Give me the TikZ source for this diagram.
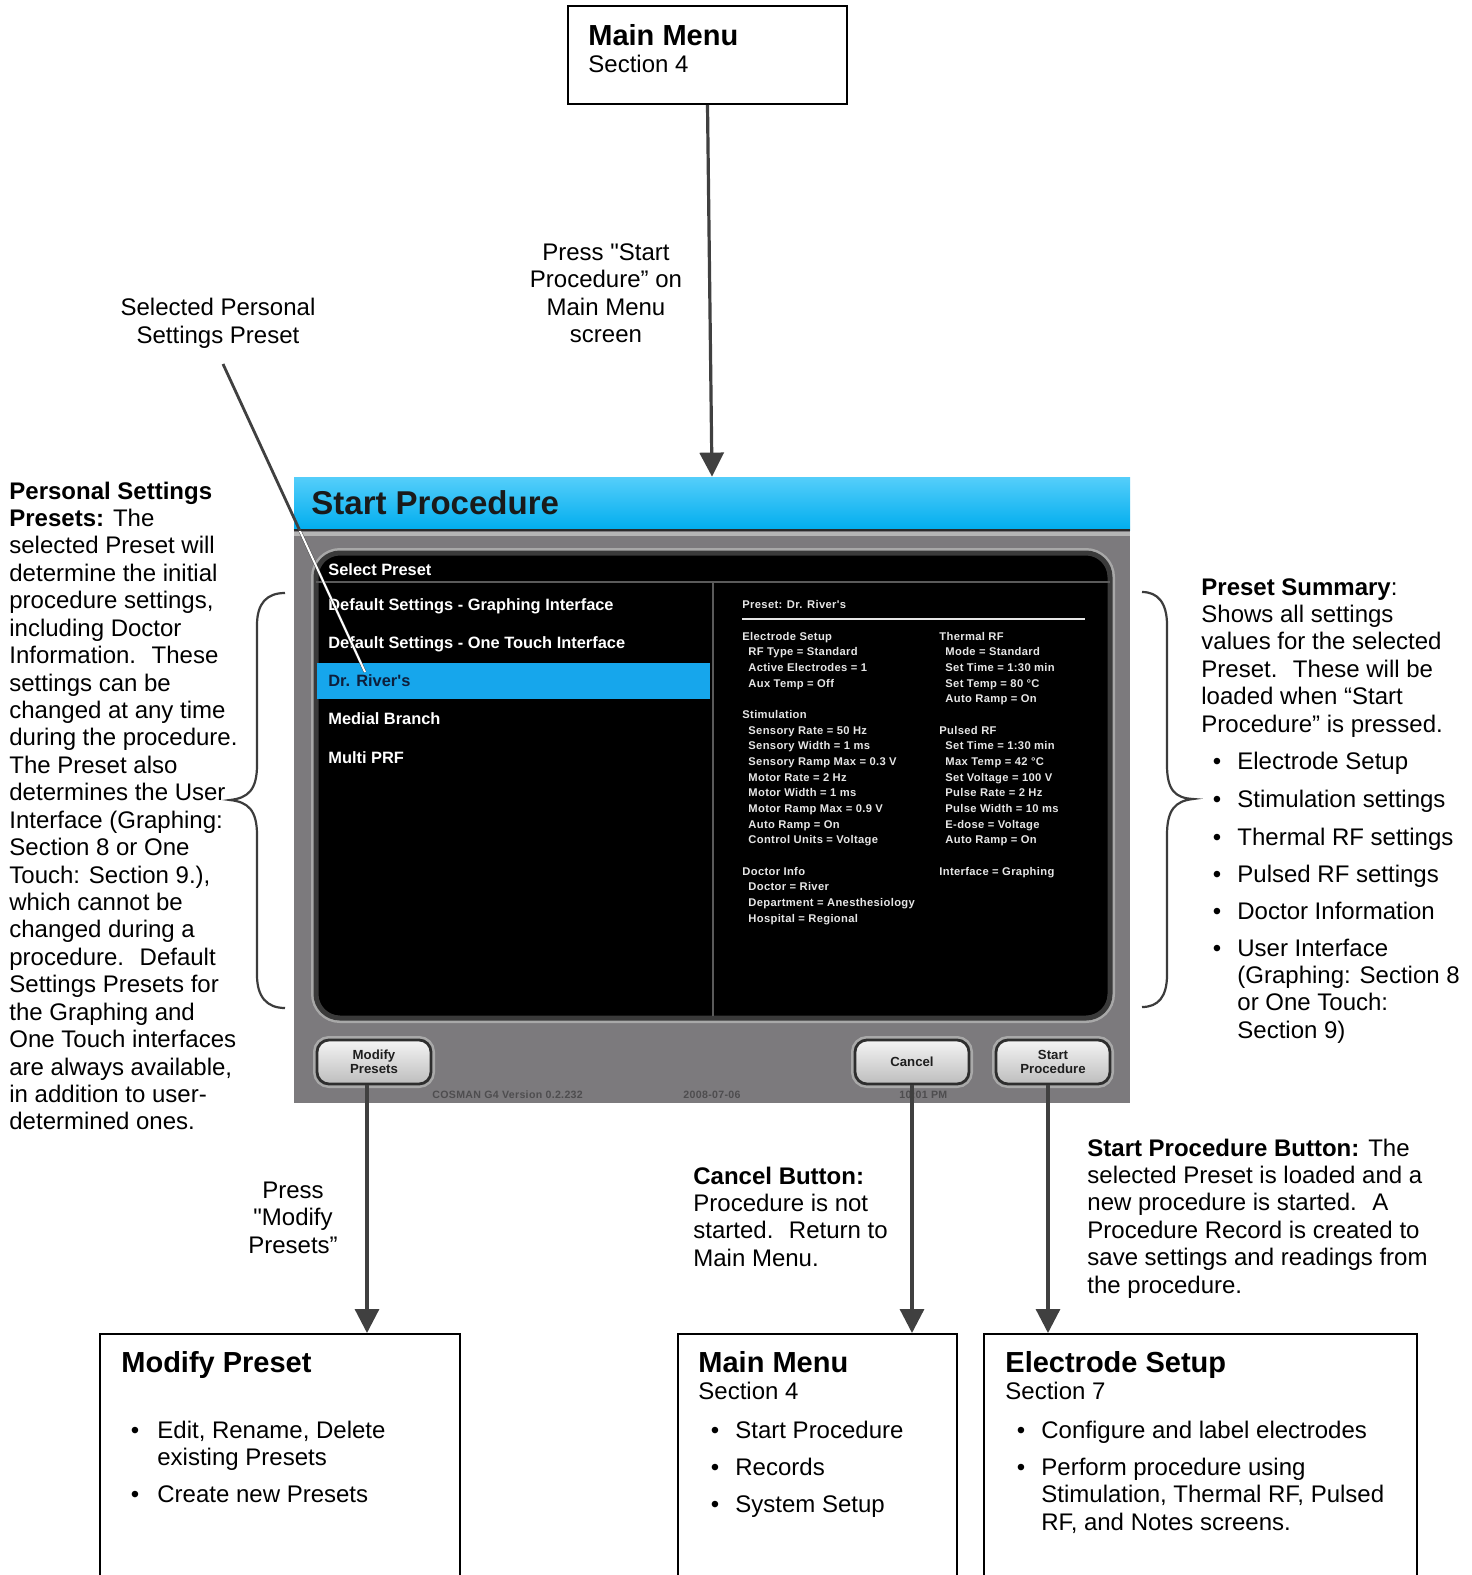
\documentclass[tikz,border=0pt]{standalone}
\usepackage{fontspec}
\setmainfont{Liberation Sans}[Ligatures=TeXOff]
\newfontfamily\scrfont[LetterSpace=3,Ligatures=TeXOff]{Liberation Sans}
\usetikzlibrary{arrows.meta,positioning,fit,calc}
\definecolor{ink}{HTML}{404040}
\definecolor{bracegray}{HTML}{3C3C3C}
\definecolor{scrgray}{HTML}{7C7A7D}
\definecolor{barTop}{HTML}{55CEFA}
\definecolor{barBot}{HTML}{00ADEE}
\definecolor{bardark}{HTML}{2B2B2B}
\definecolor{barlight}{HTML}{B5B5B5}
\definecolor{titletxt}{HTML}{1A1A1A}
\definecolor{panelrim}{HTML}{3A3A3A}
\definecolor{panelhalo}{HTML}{A8A8A8}
\definecolor{sepgray}{HTML}{5A5A5A}
\definecolor{hilite}{HTML}{16A6EC}
\definecolor{rowtxt}{HTML}{0D1F3C}
\definecolor{settxt}{HTML}{E6E6E6}
\definecolor{foottxt}{HTML}{4E4D4F}
\definecolor{btnTop}{HTML}{F4F4F4}
\definecolor{btnBot}{HTML}{BDBDBD}
\definecolor{btnrim}{HTML}{2E2E2E}
\definecolor{btnhalo}{HTML}{A9A9A9}
\definecolor{btntxt}{HTML}{1E1E1E}

\begin{document}
\begin{tikzpicture}[x=0.5pt,y=-0.5pt,
  note/.style={inner sep=0pt,anchor=base west,font=\fontsize{12}{14}\selectfont},
  cnote/.style={note,anchor=base},
  dot/.style={note,anchor=base},
  ttl/.style={inner sep=0pt,anchor=base west,font=\fontsize{14.5}{16}\selectfont\bfseries},
  box/.style={draw=black,line width=1pt,inner sep=0pt},
  arr/.style={draw=ink,line width=1.6pt,-{Triangle[width=12pt,length=12pt]}},
  brace/.style={draw=bracegray,line width=1.1pt},
  lst/.style={inner sep=0pt,anchor=base west,font=\fontsize{8.2}{9}\selectfont\bfseries},
  set/.style={inner sep=0pt,anchor=base west,text=settxt,font=\scrfont\bfseries\fontsize{5.6}{6}\selectfont},
  foot/.style={inner sep=0pt,anchor=base west,text=foottxt,font=\scrfont\bfseries\fontsize{5.3}{6}\selectfont},
  btn/.style={draw=btnrim,line width=1.4pt,rounded corners=6pt,top color=btnTop,bottom color=btnBot,
    preaction={draw=btnhalo,line width=4pt},minimum width=57pt,minimum height=22pt,
    align=center,inner sep=0pt,text=btntxt,font=\fontsize{6.6}{7.2}\selectfont\bfseries}]
\useasboundingbox[fill=white] (0,0) rectangle (1472,1575);

% the screen shot
\node[fit={(294,477) (1130,1103)},inner sep=0pt,fill=scrgray] (screen) {};
\node[fit={(294,477) (1130,530)},inner sep=0pt,top color=barTop,bottom color=barBot] (titlebar) {};
\draw[draw=bardark,line width=1pt] (titlebar.south west) -- (titlebar.south east);
\fill[barlight] (294,532) rectangle (1130,536);
\node[inner sep=0pt,anchor=base west,text=titletxt,font=\fontsize{16.5}{18}\selectfont\bfseries] (scrtitle) at (311,514) {Start Procedure};
\node[fit={(316,553) (1110,1018)},inner sep=0pt,fill=black,draw=panelrim,line width=2.5pt,rounded corners=12pt,
  preaction={draw=panelhalo,line width=5pt}] (panel) {};
\node[lst,text=white] (hdr) at (328,575) {Select Preset};
\draw[draw=sepgray,line width=1pt] (316,582) -- (1110,582);
\draw[draw=sepgray,line width=1pt] (713,582) -- (713,1016);
\node[fit={(317,663) (710,699)},inner sep=0pt,fill=hilite] (hirow) {};
\foreach \t/\c [count=\i from 0] in {Default Settings - Graphing Interface/white,
  Default Settings - One Touch Interface/white,Dr. River's/rowtxt,Medial Branch/white,Multi PRF/white}
  \node[lst,text=\c] (pre\i) at (328,610+38.3*\i) {\t};

% preset summary panel
\node[set] (sumhdr) at (742,608) {Preset: Dr. River's};
\draw[draw=settxt,line width=0.6pt] (742,619) -- (1085,619);
\foreach \r/\t in {0/Electrode Setup,5/Stimulation,15/Doctor Info}
  \node[set] (lh\r) at (742,640+15.67*\r) {\t};
\foreach \r/\t in {1/RF Type = Standard,2/Active Electrodes = 1,3/Aux Temp = Off,
  6/Sensory Rate = 50 Hz,7/Sensory Width = 1 ms,8/Sensory Ramp Max = 0.3 V,9/Motor Rate = 2 Hz,
  10/Motor Width = 1 ms,11/Motor Ramp Max = 0.9 V,12/Auto Ramp = On,13/Control Units = Voltage,
  16/Doctor = River,17/Department = Anesthesiology,18/Hospital = Regional}
  \node[set] (li\r) at (748,640+15.67*\r) {\t};
\foreach \r/\t in {0/Thermal RF,6/Pulsed RF,15/Interface = Graphing}
  \node[set] (rh\r) at (939,640+15.67*\r) {\t};
\foreach \r/\t in {1/Mode = Standard,2/Set Time = 1:30 min,3/Set Temp = 80 °C,4/Auto Ramp = On,
  7/Set Time = 1:30 min,8/Max Temp = 42 °C,9/Set Voltage = 100 V,10/Pulse Rate = 2 Hz,
  11/Pulse Width = 10 ms,12/E-dose = Voltage,13/Auto Ramp = On}
  \node[set] (ri\r) at (945,640+15.67*\r) {\t};

% footer and buttons
\node[foot] (ver) at (432,1098) {COSMAN G4 Version 0.2.232};
\node[foot] (date) at (683,1098) {2008-07-06};
\node[foot] (clock) at (899,1098) {10:01 PM};
\node[btn] (btnmod) at (374,1062) {Modify\\Presets};
\node[btn] (btncan) at (912,1062) {Cancel};
\node[btn] (btnstart) at (1053,1062) {Start\\Procedure};

% top menu box
\node[box,fit={(568,6) (847,104)}] (topmenu) {};
\node[ttl] (topttl) at (588,45) {Main Menu};
\node[note] (topsec) at (588,72) {Section 4};
\draw[arr] (topmenu.south) -- (titlebar.north);
\foreach \t [count=\i from 0] in {{Press "Start},{Procedure” on},{Main Menu},{screen}}
  \node[cnote] (press\i) at (606,260+27.6*\i) {\t};

% leader to the selected preset
\node[cnote] (selA) at (218,315) {Selected Personal};
\node[cnote] (selB) at (218,343) {Settings Preset};
\coordinate (leadtop) at (223,364);
\coordinate (leadend) at (365,672);
\draw[draw=ink,line width=1.4pt] (leadtop) -- (leadend);
\begin{scope}
  \clip (294,531) rectangle (1130,1103);
  \draw[white,line width=1pt] (leadtop) -- (leadend);
\end{scope}

% left note and brace
\foreach \t [count=\i from 0] in {{\textbf{Personal Settings}},{\textbf{Presets:} The},
  {selected Preset will},{determine the initial},{procedure settings,},{including Doctor},
  {Information.~ These},{settings can be},{changed at any time},{during the procedure.},
  {The Preset also},{determines the User},{Interface (Graphing:},{Section 8 or One},
  {Touch: Section 9.),},{which cannot be},{changed during a},{procedure.~ Default},
  {Settings Presets for},{the Graphing and},{One Touch interfaces},{are always available,},
  {in addition to user-},{determined ones.}}
  \node[note] (pss\i) at (9,499+27.43*\i) {\t};
\draw[brace] (285,593) .. controls (267,593) and (257,603) .. (257,625) -- (257,765)
  .. controls (257,790) and (248,798) .. (230,800) .. controls (248,802) and (257,810) .. (257,835)
  -- (257,975) .. controls (257,997) and (267,1008) .. (285,1008);

% right note and brace
\foreach \t [count=\i from 0] in {{\textbf{Preset Summary}:},{Shows all settings},
  {values for the selected},{Preset.~ These will be},{loaded when “Start},{Procedure” is pressed.}}
  \node[note] (sum\i) at (1201,595+27.4*\i) {\t};
\foreach \y/\t in {769/Electrode Setup,807/Stimulation settings,845/Thermal RF settings,
  882/Pulsed RF settings,919/Doctor Information,956/User Interface}
  \node[dot] at (1217,\y) {•};
\foreach \y/\t in {769/Electrode Setup,807/Stimulation settings,845/Thermal RF settings,
  882/Pulsed RF settings,919/Doctor Information,956/User Interface,983/{(Graphing: Section 8},
  1010/{or One Touch:},1038/{Section 9)}}
  \node[note] (item\y) at (1237,\y) {\t};
\draw[brace] (1142,592) .. controls (1158,592) and (1167,603) .. (1167,625) -- (1167,765)
  .. controls (1167,790) and (1175,798) .. (1193,799) .. controls (1175,801) and (1167,810) .. (1167,835)
  -- (1167,975) .. controls (1167,997) and (1158,1007) .. (1142,1007);

% notes under the buttons
\foreach \t [count=\i from 0] in {{Press},{"Modify},{Presets”}}
  \node[cnote] (pm\i) at (293,1198+27.5*\i) {\t};
\foreach \t [count=\i from 0] in {{\textbf{Cancel Button:}},{Procedure is not},
  {started.~ Return to},{Main Menu.}}
  \node[note] (cn\i) at (693,1184+27.4*\i) {\t};
\foreach \t [count=\i from 0] in {{\textbf{Start Procedure Button:} The},
  {selected Preset is loaded and a},{new procedure is started.~ A},
  {Procedure Record is created to},{save settings and readings from},{the procedure.}}
  \node[note] (sp\i) at (1087,1156+27.45*\i) {\t};

% target screens
\node[box,fit={(100,1334) (460,1600)}] (modbox) {};
\node[ttl] (modttl) at (121,1372) {Modify Preset};
\node[dot] at (135,1438) {•};
\node[note] (mod1) at (157,1438) {Edit, Rename, Delete};
\node[note] (mod2) at (157,1465) {existing Presets};
\node[dot] at (135,1502) {•};
\node[note] (mod3) at (157,1502) {Create new Presets};

\node[box,fit={(678,1334) (957,1600)}] (mmbox) {};
\node[ttl] (mmttl) at (698,1372) {Main Menu};
\node[note] (mmsec) at (698,1399) {Section 4};
\foreach \y/\t in {1438/Start Procedure,1475/Records,1512/System Setup}{
  \node[dot] at (715,\y) {•};
  \node[note] (mm\y) at (735,\y) {\t};
}

\node[box,fit={(984,1334) (1417,1600)}] (esbox) {};
\node[ttl] (esttl) at (1005,1372) {Electrode Setup};
\node[note] (essec) at (1005,1399) {Section 7};
\node[dot] at (1021,1438) {•};
\node[note] (es1) at (1041,1438) {Configure and label electrodes};
\node[dot] at (1021,1475) {•};
\node[note] (es2) at (1041,1475) {Perform procedure using};
\node[note] (es3) at (1041,1502) {Stimulation, Thermal RF, Pulsed};
\node[note] (es4) at (1041,1530) {RF, and Notes screens.};

% button arrows
\coordinate (modout) at ([xshift=-3.5pt]btnmod.south);
\draw[arr] (modout) -- (modout |- modbox.north);
\coordinate (canout) at (btncan.south);
\draw[arr] (canout) -- (canout |- mmbox.north);
\coordinate (startout) at ([xshift=-2.5pt]btnstart.south);
\draw[arr] (startout) -- (startout |- esbox.north);
\end{tikzpicture}
\end{document}
